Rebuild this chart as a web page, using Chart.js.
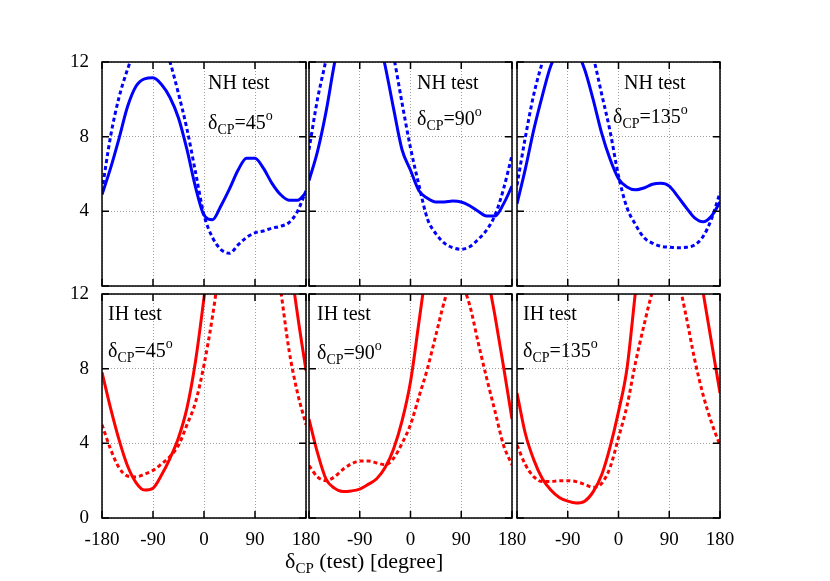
<!DOCTYPE html>
<html>
<head>
<meta charset="utf-8">
<script src="https://cdn.jsdelivr.net/npm/chart.js@4.4.1/dist/chart.umd.min.js"></script>
<style>
  body { margin: 0; background: #fff; }
  #wrap { position: relative; width: 830px; height: 581px; font-family: "Liberation Serif", "Times New Roman", serif; color: #000; }
  canvas { position: absolute; }
  .lbl { position: absolute; font-size: 20px; line-height: 20px; white-space: nowrap; }
  .lbl sub { font-size: 14px; vertical-align: -5px; line-height: 0; }
  .lbl sup { font-size: 14px; vertical-align: 9px; line-height: 0; }
  .xtitle { font-size: 22px; }
  .xtitle sub { font-size: 15px; }
</style>
</head>
<body>
<div id="wrap"></div>
<script>
// test delta_CP grid (degree)
const angles = [-180, -165, -150, -135, -120, -105, -90, -75, -60, -45, -30, -15, 0,
                15, 30, 45, 60, 75, 90, 105, 120, 135, 150, 165, 180];
const xTicks = [-180, -90, 0, 90, 180];
const yTicks = [0, 4, 8, 12];

// NH test (blue)
const nh45Solid  = [4.9, 6.3, 7.9, 9.6, 10.7, 11.1, 11.15, 10.8, 10.1, 9.0, 7.3, 5.3, 3.8, 3.55, 4.3, 5.2, 6.2, 6.85, 6.85, 6.3, 5.5, 4.9, 4.6, 4.6, 5.0];
const nh45Dashed = [5.1, 8.0, 10.1, 11.6, 12.8, 13.5, 13.7, 13.3, 12.0, 10.3, 8.4, 6.1, 3.8, 2.6, 1.95, 1.75, 2.2, 2.6, 2.85, 2.95, 3.1, 3.2, 3.4, 4.0, 5.1];
const nh90Solid  = [5.65, 7.2, 9.3, 11.9, 14.0, 15.4, 15.8, 15.3, 13.7, 11.8, 9.5, 7.3, 6.2, 5.1, 4.7, 4.5, 4.5, 4.55, 4.5, 4.3, 4.0, 3.75, 3.75, 4.4, 5.35];
const nh90Dashed = [7.3, 10.0, 12.1, 14.5, 16.5, 17.7, 18.0, 17.6, 16.3, 14.2, 12.3, 9.8, 7.4, 5.4, 3.6, 2.8, 2.3, 2.05, 1.97, 2.1, 2.5, 3.0, 3.8, 5.2, 7.0];
const nh135Solid  = [4.4, 6.3, 8.4, 10.2, 11.8, 12.6, 13.0, 12.6, 11.6, 10.0, 8.2, 6.8, 5.75, 5.3, 5.15, 5.25, 5.45, 5.5, 5.35, 4.8, 4.2, 3.65, 3.44, 3.75, 4.5];
const nh135Dashed = [5.4, 8.0, 10.3, 12.0, 13.6, 14.7, 15.1, 14.8, 13.8, 12.3, 10.3, 8.3, 5.9, 4.2, 3.3, 2.6, 2.3, 2.13, 2.08, 2.05, 2.07, 2.2, 2.65, 3.6, 5.0];

// IH test (red)
const ih45Solid  = [7.8, 5.9, 4.2, 2.8, 1.9, 1.5, 1.6, 2.3, 3.2, 4.3, 5.9, 8.4, 11.8, 15.5, 19.5, 22.5, 24.5, 25.5, 25.5, 24.5, 22.0, 18.8, 14.3, 10.9, 7.9];
const ih45Dashed = [5.0, 3.7, 2.7, 2.25, 2.2, 2.35, 2.55, 2.9, 3.3, 3.9, 5.0, 6.2, 8.2, 10.8, 14.0, 17.0, 19.0, 20.0, 19.8, 18.3, 15.5, 12.3, 9.0, 6.7, 5.0];
const ih90Solid  = [5.3, 3.5, 2.1, 1.6, 1.42, 1.45, 1.55, 1.8, 2.1, 2.7, 3.7, 5.2, 7.3, 10.5, 13.8, 17.0, 19.0, 20.0, 19.5, 17.8, 15.5, 13.2, 10.8, 8.1, 5.3];
const ih90Dashed = [2.8, 2.2, 2.0, 2.2, 2.6, 2.9, 3.05, 3.05, 2.95, 2.85, 3.2, 4.0, 5.0, 6.5, 8.0, 9.8, 11.6, 12.9, 12.6, 11.4, 9.4, 7.5, 5.7, 3.9, 2.85];
const ih135Solid  = [6.7, 4.5, 3.1, 2.1, 1.5, 1.1, 0.9, 0.8, 0.9, 1.4, 2.3, 3.8, 5.7, 8.0, 12.1, 16.0, 19.0, 20.5, 20.5, 19.5, 17.0, 14.8, 12.1, 9.4, 6.7];
const ih135Dashed = [3.9, 2.85, 2.2, 1.95, 1.95, 2.0, 2.0, 1.95, 1.8, 1.65, 1.85, 2.7, 4.3, 6.0, 8.3, 10.3, 12.1, 13.2, 13.4, 12.8, 10.8, 8.5, 6.6, 5.1, 3.9];

const BLUE = '#0000ff';
const RED = '#ff0000';
const FONT = '"Liberation Serif", "Times New Roman", serif';

const panels = [
  { left: 102, top: 62, w: 204, solid: nh45Solid, dashed: nh45Dashed, color: BLUE, row: 0, col: 0,
    title: 'NH test', delta: '45', tx: 208, ty: 72, dx: 208, dy: 112 },
  { left: 309, top: 62, w: 203, solid: nh90Solid, dashed: nh90Dashed, color: BLUE, row: 0, col: 1,
    title: 'NH test', delta: '90', tx: 417, ty: 72, dx: 417, dy: 108 },
  { left: 517, top: 62, w: 203, solid: nh135Solid, dashed: nh135Dashed, color: BLUE, row: 0, col: 2,
    title: 'NH test', delta: '135', tx: 624, ty: 72, dx: 613, dy: 106 },
  { left: 102, top: 294, w: 204, solid: ih45Solid, dashed: ih45Dashed, color: RED, row: 1, col: 0,
    title: 'IH test', delta: '45', tx: 108, ty: 303, dx: 108, dy: 340 },
  { left: 309, top: 294, w: 203, solid: ih90Solid, dashed: ih90Dashed, color: RED, row: 1, col: 1,
    title: 'IH test', delta: '90', tx: 317, ty: 303, dx: 317, dy: 342 },
  { left: 517, top: 294, w: 203, solid: ih135Solid, dashed: ih135Dashed, color: RED, row: 1, col: 2,
    title: 'IH test', delta: '135', tx: 523, ty: 303, dx: 523, dy: 340 }
];
const PANEL_H = 224;
const PAD = { left: 50, right: 30, top: 20, bottom: 50 };

// black frame with inward ticks on all four sides (gnuplot style)
const framePlugin = {
  id: 'frame',
  afterDatasetsDraw(chart) {
    const { ctx, chartArea: a, scales } = chart;
    ctx.save();
    ctx.strokeStyle = '#000';
    ctx.lineWidth = 1.5;
    ctx.beginPath();
    xTicks.forEach(v => {
      const x = scales.x.getPixelForValue(v);
      ctx.moveTo(x, a.bottom); ctx.lineTo(x, a.bottom - 7);
      ctx.moveTo(x, a.top); ctx.lineTo(x, a.top + 7);
    });
    yTicks.forEach(v => {
      const y = scales.y.getPixelForValue(v);
      ctx.moveTo(a.left, y); ctx.lineTo(a.left + 7, y);
      ctx.moveTo(a.right, y); ctx.lineTo(a.right - 7, y);
    });
    ctx.stroke();
    ctx.strokeRect(a.left, a.top, a.right - a.left, a.bottom - a.top);
    ctx.restore();
  }
};

const wrap = document.getElementById('wrap');

panels.forEach(p => {
  const canvas = document.createElement('canvas');
  canvas.width = p.w + PAD.left + PAD.right;
  canvas.height = PANEL_H + PAD.top + PAD.bottom;
  canvas.style.left = (p.left - PAD.left) + 'px';
  canvas.style.top = (p.top - PAD.top) + 'px';
  wrap.appendChild(canvas);

  const showX = p.row === 1;
  const showY = p.col === 0;

  new Chart(canvas.getContext('2d'), {
    type: 'line',
    data: {
      labels: angles,
      datasets: [
        {
          data: p.solid,
          borderColor: p.color,
          borderWidth: 3,
          pointRadius: 0,
          cubicInterpolationMode: 'monotone',
          clip: 0
        },
        {
          data: p.dashed,
          borderColor: p.color,
          borderWidth: 3,
          borderDash: [4, 3],
          pointRadius: 0,
          cubicInterpolationMode: 'monotone',
          clip: 0
        }
      ]
    },
    options: {
      responsive: false,
      animation: false,
      events: [],
      // axis boxes take the left/bottom margins, so only top/right padding here
      layout: { padding: { left: 0, bottom: 0, top: PAD.top, right: PAD.right } },
      plugins: { legend: { display: false }, tooltip: { enabled: false } },
      scales: {
        x: {
          type: 'linear',
          min: -180,
          max: 180,
          afterFit: s => {
            s.height = PAD.bottom;
            s.paddingLeft = s.paddingRight = s.paddingTop = s.paddingBottom = 0;
          },
          afterBuildTicks: s => { s.ticks = xTicks.map(v => ({ value: v })); },
          grid: { color: '#a0a0a0', lineWidth: 1, drawTicks: false },
          border: { display: false, dash: [1, 2] },
          ticks: {
            display: showX,
            padding: 11,
            maxRotation: 0,
            autoSkip: false,
            color: '#000',
            font: { family: FONT, size: 19 },
            callback: v => (p.col > 0 && v === -180) ? '' : String(v)
          }
        },
        y: {
          min: 0,
          max: 12,
          afterFit: s => {
            s.width = PAD.left;
            s.paddingLeft = s.paddingRight = s.paddingTop = s.paddingBottom = 0;
          },
          afterBuildTicks: s => { s.ticks = yTicks.map(v => ({ value: v })); },
          grid: { color: '#a0a0a0', lineWidth: 1, drawTicks: false },
          border: { display: false, dash: [1, 2] },
          ticks: {
            display: showY,
            padding: 13,
            color: '#000',
            font: { family: FONT, size: 19 },
            callback: v => (p.row === 0 && v === 0) ? '' : String(v)
          }
        }
      }
    },
    plugins: [framePlugin]
  });

  const t = document.createElement('div');
  t.className = 'lbl';
  t.style.left = p.tx + 'px';
  t.style.top = p.ty + 'px';
  t.textContent = p.title;
  wrap.appendChild(t);

  const d = document.createElement('div');
  d.className = 'lbl';
  d.style.left = p.dx + 'px';
  d.style.top = p.dy + 'px';
  d.innerHTML = '&delta;<sub>CP</sub>=' + p.delta + '<sup>o</sup>';
  wrap.appendChild(d);
});

const xt = document.createElement('div');
xt.className = 'lbl xtitle';
xt.style.left = '285px';
xt.style.top = '551px';
xt.innerHTML = '&delta;<sub>CP</sub> (test) [degree]';
wrap.appendChild(xt);
</script>
</body>
</html>
